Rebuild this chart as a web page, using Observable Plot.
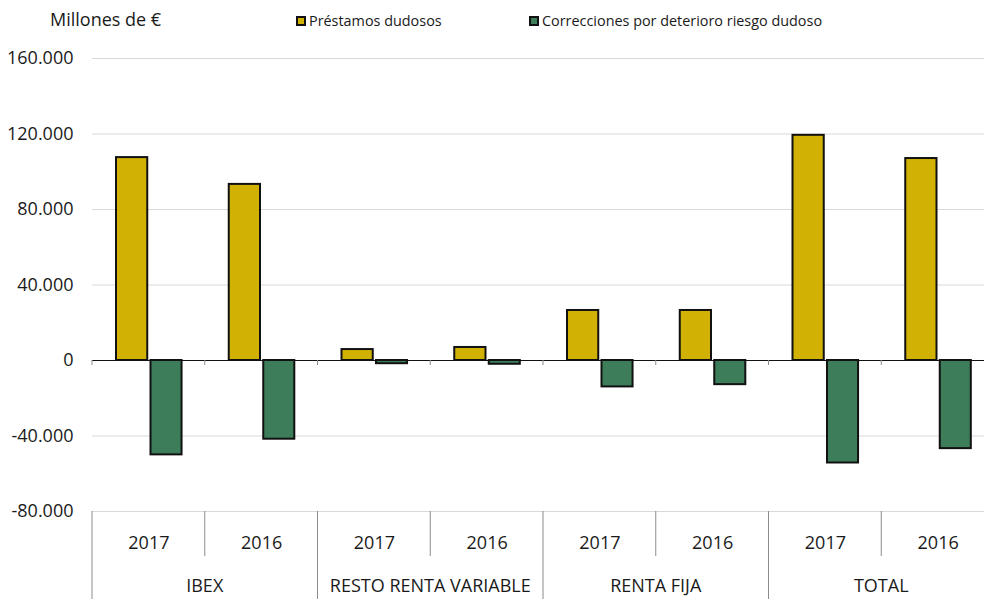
<!DOCTYPE html>
<html><head><meta charset="utf-8">
<script src="https://cdn.jsdelivr.net/npm/d3@7"></script>
<script src="https://cdn.jsdelivr.net/npm/@observablehq/plot@0.6"></script>
<style>
body{margin:0;background:#fff;font-family:"Open Sans",sans-serif;}
#wrap{position:relative;width:984px;height:599px;overflow:hidden;}
#title{position:absolute;left:50px;top:7px;font-size:18px;color:#1a1a1a;white-space:nowrap;}
.leg{position:absolute;top:11px;font-size:14.4px;color:#1a1a1a;display:flex;align-items:center;white-space:nowrap;line-height:20px;}
.sw{width:6px;height:6px;border:2px solid #111;margin-right:3px;}
#chart{position:absolute;left:0;top:40px;width:994px;}
#chart svg{max-width:none !important;width:994px;height:559px;}
</style></head><body>
<div id="wrap">
  <div id="title">Millones de €</div>
  <div class="leg" style="left:296px"><span class="sw" style="background:#d2b105"></span>Préstamos dudosos</div>
  <div class="leg" style="left:529px"><span class="sw" style="background:#3d7d5a"></span>Correcciones por deterioro riesgo dudoso</div>
  <div id="chart"></div>
</div>
<script>
const groups = ["IBEX", "RESTO RENTA VARIABLE", "RENTA FIJA", "TOTAL"];
const years = ["2017", "2016"];
const prestamos = [107500, 93300, 5800, 6900, 26500, 26500, 119300, 107000];
const correcciones = [-50000, -41700, -1700, -2000, -14000, -12800, -54300, -46700];
const yTicks = [-80000, -40000, 0, 40000, 80000, 120000, 160000];
const seriesNames = ["Préstamos dudosos", "Correcciones por deterioro riesgo dudoso"];

const rows = [];
groups.forEach((g, gi) => years.forEach((y, yi) => {
  const i = gi * years.length + yi;
  rows.push({key: g + " " + y, group: g, year: y, prestamos: prestamos[i], correcciones: correcciones[i], first: yi === 0});
}));
const keys = rows.map(d => d.key);

const loc = d3.formatLocale({decimal: ",", thousands: ".", grouping: [3], currency: ["", "€"], minus: "-"});
const fmt = loc.format(",");

function bottomAxis(index, scales, values, dimensions) {
  const x = scales.x;
  const bw = x.bandwidth ? x.bandwidth() : (x(keys[1]) - x(keys[0]));
  const yb = dimensions.height - dimensions.marginBottom;
  const y0 = scales.y(0);
  const g = d3.create("svg:g");
  rows.forEach(d => {
    const x0 = x(d.key);
    g.append("line").attr("x1", x0).attr("x2", x0).attr("y1", y0).attr("y2", y0 + 5)
      .attr("stroke", "#8c8c8c").attr("stroke-width", 1);
    g.append("line").attr("x1", x0).attr("x2", x0).attr("y1", yb).attr("y2", d.first ? dimensions.height : yb + 45)
      .attr("stroke", "#8c8c8c").attr("stroke-width", 1);
  });
  groups.forEach(gname => {
    const ks = rows.filter(r => r.group === gname).map(r => r.key);
    const cx = (x(ks[0]) + x(ks[ks.length - 1]) + bw) / 2;
    g.append("text").attr("x", cx).attr("y", yb + 76).attr("text-anchor", "middle")
      .attr("dominant-baseline", "middle").attr("font-size", 18).attr("fill", "#1a1a1a")
      .text(gname);
  });
  return g.node();
}

const chart = Plot.plot({
  width: 994,
  height: 559,
  marginTop: 18,
  marginBottom: 88,
  marginLeft: 92,
  marginRight: 0,
  style: {fontFamily: "'Open Sans', sans-serif", fontSize: "18px", color: "#1a1a1a", background: "#fff", maxWidth: "none"},
  x: {domain: keys, padding: 0, round: false, axis: null},
  y: {domain: [-80000, 160000], ticks: yTicks, tickFormat: fmt, label: null},
  marks: [
    Plot.gridY(yTicks, {stroke: "#d9d9d9", strokeOpacity: 1, strokeWidth: 1}),
    Plot.axisY(yTicks, {tickSize: 0, tickPadding: 19, tickFormat: fmt, label: null, fontSize: 18}),
    Plot.barY(rows, {x: "key", y: "prestamos", fill: "#d2b105", stroke: "#111", strokeWidth: 2, insetLeft: 24, insetRight: 57.5, title: d => seriesNames[0]}),
    Plot.barY(rows, {x: "key", y: "correcciones", fill: "#3d7d5a", stroke: "#111", strokeWidth: 2, insetLeft: 58.5, insetRight: 23.2, title: d => seriesNames[1]}),
    Plot.ruleY([0], {stroke: "#111", strokeWidth: 1}),
    Plot.text(rows, {x: "key", text: "year", frameAnchor: "bottom", lineAnchor: "middle", dy: 32, fontSize: 18, fill: "#1a1a1a"}),
    bottomAxis
  ]
});
document.getElementById("chart").appendChild(chart);
</script>
</body></html>
